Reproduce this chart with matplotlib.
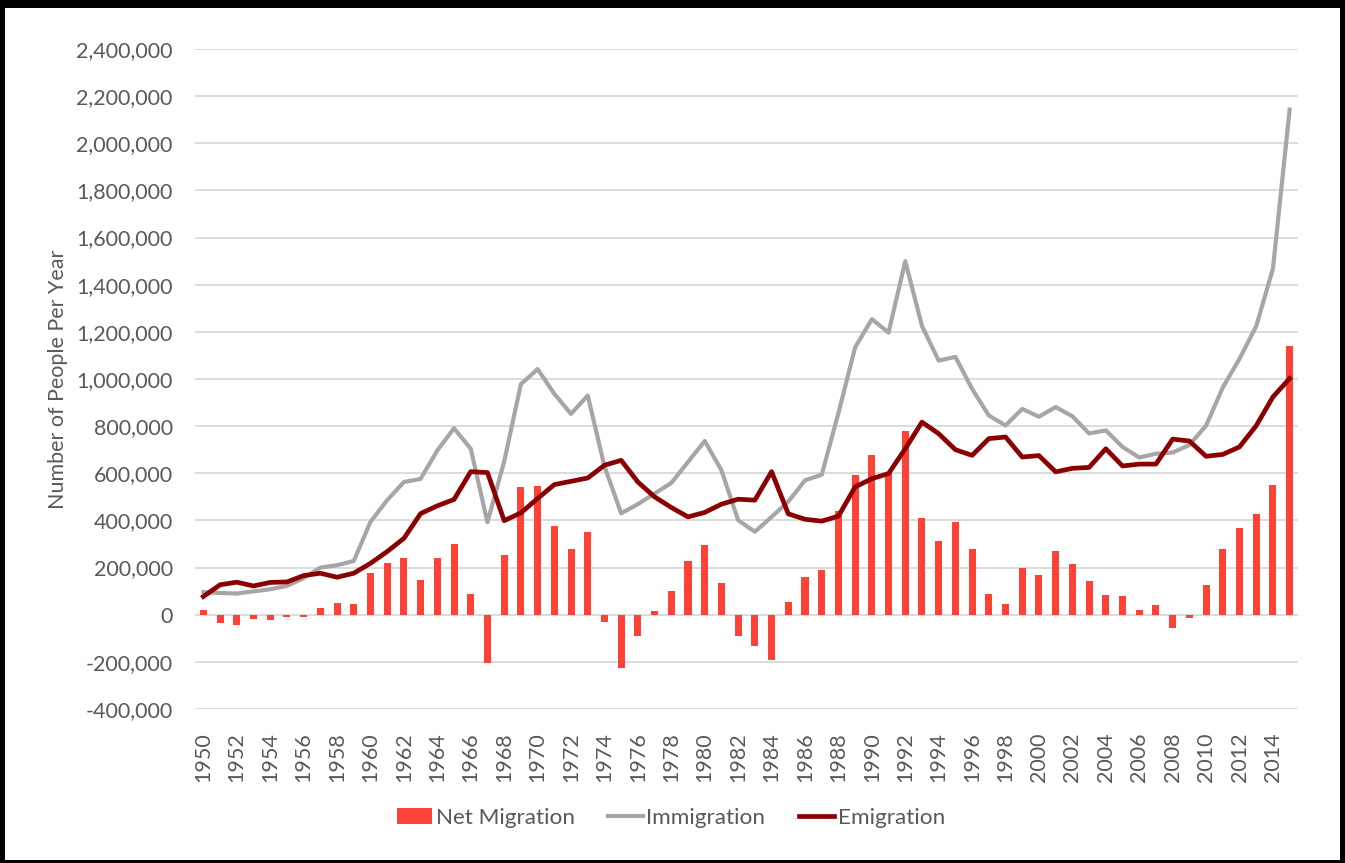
"""Net migration, immigration and emigration per year, 1950-2015 (bars + lines)."""
import matplotlib
matplotlib.use("Agg")
import matplotlib.pyplot as plt
from matplotlib.patches import Rectangle
from matplotlib.ticker import FuncFormatter
import numpy as np

years = list(range(1950, 2016))

# thousands of people per year
net_migration = [20, -37, -45, -18, -23, -8, -8, 27, 50, 46,
                 177, 220, 240, 148, 240, 301, 90, -204, 252, 541,
                 544, 378, 280, 350, -31, -225, -91, 17, 99, 229,
                 294, 134, -91, -131, -190, 55, 160, 191, 438, 594,
                 678, 600, 780, 412, 313, 395, 280, 89, 45, 198,
                 167, 272, 216, 143, 83, 78, 21, 41, -55, -15,
                 127, 278, 367, 428, 550, 1140]
immigration = [96, 92, 90, 99, 108, 122, 155, 200, 210, 228,
               394, 486, 563, 576, 697, 791, 704, 392, 650, 978,
               1042, 937, 852, 930, 630, 430, 469, 514, 559, 648,
               737, 613, 401, 352, 415, 480, 570, 594, 855, 1134,
               1254, 1197, 1500, 1225, 1078, 1094, 958, 845, 803, 873,
               840, 881, 842, 769, 782, 712, 667, 683, 688, 720,
               802, 964, 1086, 1224, 1468, 2143]
emigration = [77, 127, 138, 122, 137, 139, 166, 176, 159, 176,
              218, 268, 324, 429, 462, 489, 607, 603, 399, 432,
              493, 552, 566, 580, 634, 655, 563, 500, 455, 415,
              434, 469, 490, 486, 607, 428, 405, 397, 418, 542,
              577, 599, 704, 817, 768, 700, 676, 747, 754, 669,
              675, 606, 621, 625, 704, 631, 639, 639, 745, 737,
              672, 680, 712, 802, 924, 1002]

FONT = ["Lato", "DejaVu Sans"]
TXT = "#595959"

plt.rcParams["font.family"] = FONT

fig = plt.figure(figsize=(13.45, 8.63), dpi=100, facecolor="black")
# white card inside the black frame
fig.patches.append(Rectangle((5 / 1345, 3 / 863), 1335 / 1345, 852 / 863,
                             transform=fig.transFigure, facecolor="white",
                             edgecolor="none", zorder=-1))

ax = fig.add_axes([195 / 1345, 1 - 709 / 863, 1103 / 1345, 660 / 863])
ax.set_facecolor("none")

x = np.arange(len(years))
scale = 1000
bars = ax.bar(x, np.array(net_migration) * scale, width=0.42, color="#FF4136",
              label="Net Migration", zorder=2)
l_imm, = ax.plot(x, np.array(immigration) * scale, color="#A6A6A6", lw=3.0,
                 label="Immigration", zorder=3, solid_joinstyle="round")
l_emi, = ax.plot(x, np.array(emigration) * scale, color="#8B0000", lw=3.4,
                 label="Emigration", zorder=4, solid_joinstyle="round")

ax.set_xlim(-0.5, len(years) - 0.5)
ax.set_ylim(-400000, 2400000)
ax.set_yticks(np.arange(-400000, 2400001, 200000))
ax.yaxis.set_major_formatter(FuncFormatter(lambda v, p: f"{int(v):,}"))
ax.set_xticks(x[::2])
ax.set_xticklabels([str(y) for y in years[::2]], rotation=90)

ax.grid(axis="y", color="#D9D9D9", lw=1.3, zorder=0)
ax.set_axisbelow(True)
for s in ax.spines.values():
    s.set_visible(False)
ax.tick_params(axis="both", length=0, labelsize=15.5, labelcolor=TXT)
ax.tick_params(axis="y", pad=16)
ax.tick_params(axis="x", pad=17)

ax.set_ylabel("Number of People Per Year", fontsize=15.5, color=TXT, labelpad=6)

fig.legend(handles=[bars, l_imm, l_emi], loc="center",
           bbox_to_anchor=(671 / 1345, 1 - 818 / 863), ncol=3,
           frameon=False, fontsize=16.2, labelcolor=TXT, handlelength=1.55,
           handletextpad=0.15, columnspacing=1.5)

fig.savefig("out.png", dpi=100, facecolor=fig.get_facecolor())
